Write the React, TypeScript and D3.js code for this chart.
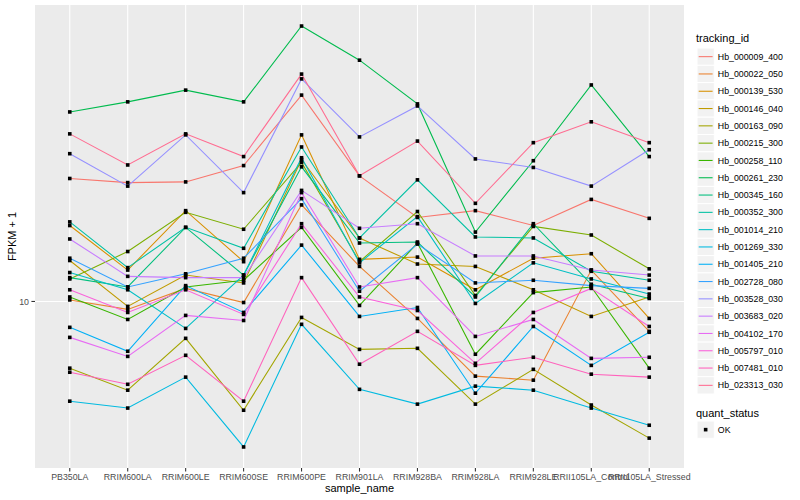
import { useEffect, useRef } from "react";
import * as d3 from "d3";

const samples = [
  "PB350LA", "RRIM600LA", "RRIM600LE", "RRIM600SE", "RRIM600PE", "RRIM901LA",
  "RRIM928BA", "RRIM928LA", "RRIM928LE", "RRII105LA_Control", "RRII105LA_Stressed",
];

// FPKM + 1 per sample, one array per gene
const hb000009_400 = [22.5, 21.9, 22.0, 24.5, 39.0, 22.9, 17.4, 18.2, 16.5, 19.6, 17.3];
const hb000022_050 = [10.1, 9.49, 10.9, 9.93, 18.9, 12.6, 8.94, 6.11, 5.95, 12.3, 8.21];
const hb000139_530 = [16.5, 12.3, 18.2, 13.0, 30.0, 13.2, 13.4, 10.8, 13.3, 13.7, 8.94];
const hb000146_040 = [13.1, 9.68, 11.9, 11.3, 25.5, 15.2, 12.8, 12.6, 10.8, 9.06, 10.3];
const hb000163_090 = [6.44, 5.57, 7.84, 4.88, 9.0, 7.29, 7.34, 5.08, 6.39, 5.05, 4.06];
const hb000215_300 = [11.6, 13.9, 18.0, 16.1, 25.0, 13.0, 18.1, 10.4, 16.4, 15.5, 12.4];
const hb000258_110 = [10.3, 8.88, 11.0, 11.5, 16.3, 9.74, 14.7, 7.06, 10.6, 11.0, 6.44];
const hb000261_230 = [34.9, 37.3, 40.3, 37.3, 61.5, 49.1, 36.8, 15.8, 25.3, 41.7, 26.0];
const hb000345_160 = [11.7, 11.0, 16.3, 11.9, 24.3, 14.7, 14.8, 10.3, 16.7, 11.2, 10.2];
const hb000352_300 = [16.9, 12.5, 16.3, 14.2, 27.7, 15.2, 22.3, 15.3, 15.2, 12.2, 11.5];
const hb001014_210 = [12.1, 10.8, 8.37, 11.9, 25.8, 12.9, 17.5, 9.87, 12.9, 11.6, 10.5];
const hb001269_330 = [5.18, 4.95, 6.07, 3.83, 8.6, 5.6, 5.08, 5.72, 5.57, 4.95, 4.42];
const hb001405_210 = [8.43, 7.2, 11.1, 9.3, 14.5, 9.06, 9.61, 5.46, 8.48, 6.56, 8.16];
const hb002728_080 = [13.3, 11.0, 12.0, 13.3, 19.7, 10.7, 14.6, 11.3, 11.5, 11.1, 10.9];
const hb003528_030 = [26.5, 21.4, 30.0, 20.5, 43.4, 29.6, 36.3, 25.6, 24.2, 21.4, 27.2];
const hb003683_020 = [15.1, 11.8, 11.7, 11.7, 20.8, 16.2, 16.7, 13.5, 13.5, 12.3, 11.9];
const hb004102_170 = [7.89, 6.96, 9.12, 8.82, 20.5, 11.0, 11.7, 7.94, 8.88, 6.87, 6.92];
const hb005797_010 = [10.8, 9.3, 10.8, 9.18, 16.7, 10.3, 9.42, 6.65, 9.3, 10.9, 8.48];
const hb007481_010 = [6.27, 5.79, 7.01, 5.18, 11.7, 6.61, 8.21, 6.56, 6.92, 6.19, 6.07];
const hb023313_030 = [30.2, 24.6, 30.2, 26.0, 44.8, 22.9, 28.8, 19.1, 28.5, 32.7, 28.5];

const trackingIds = [
  "Hb_000009_400", "Hb_000022_050", "Hb_000139_530", "Hb_000146_040", "Hb_000163_090",
  "Hb_000215_300", "Hb_000258_110", "Hb_000261_230", "Hb_000345_160", "Hb_000352_300",
  "Hb_001014_210", "Hb_001269_330", "Hb_001405_210", "Hb_002728_080", "Hb_003528_030",
  "Hb_003683_020", "Hb_004102_170", "Hb_005797_010", "Hb_007481_010", "Hb_023313_030",
];

const seriesValues = [
  hb000009_400, hb000022_050, hb000139_530, hb000146_040, hb000163_090,
  hb000215_300, hb000258_110, hb000261_230, hb000345_160, hb000352_300,
  hb001014_210, hb001269_330, hb001405_210, hb002728_080, hb003528_030,
  hb003683_020, hb004102_170, hb005797_010, hb007481_010, hb023313_030,
];

// ggplot2 default hue palette for 20 levels
const palette = [
  "#F8766D", "#EA8331", "#D89000", "#C09B00", "#A3A500",
  "#7CAE00", "#39B600", "#00BB4E", "#00BF7D", "#00C1A3",
  "#00BFC4", "#00BAE0", "#00B0F6", "#35A2FF", "#9590FF",
  "#C77CFF", "#E76BF3", "#FA62DB", "#FF62BC", "#FF6C91",
];

const yTicks = [10];
const statusLevels = ["OK"];

export default function App() {
  const svgRef = useRef<SVGSVGElement>(null);

  useEffect(() => {
    if (!svgRef.current) return;
    const svg = d3.select(svgRef.current);
    svg.selectAll("*").remove();

    const font = "'Liberation Sans', Arial, Helvetica, sans-serif";
    const left = 35, right = 684, top = 5, bottom = 468;

    const x = d3.scalePoint<string>().domain(samples).range([left, right]).padding(0.6);

    const all = seriesValues.flat();
    const lo = Math.log10(d3.min(all)!), hi = Math.log10(d3.max(all)!);
    const pad = (hi - lo) * 0.05;
    const y = d3.scaleLog().domain([10 ** (lo - pad), 10 ** (hi + pad)]).range([bottom, top]);

    // panel
    svg.append("rect")
      .attr("x", left).attr("y", top)
      .attr("width", right - left).attr("height", bottom - top)
      .attr("fill", "#EBEBEB");

    const grid = svg.append("g").attr("stroke", "#FFFFFF").attr("stroke-width", 1.07);
    samples.forEach((s) => {
      grid.append("line")
        .attr("x1", x(s)!).attr("x2", x(s)!)
        .attr("y1", top).attr("y2", bottom);
    });
    yTicks.forEach((t) => {
      grid.append("line")
        .attr("x1", left).attr("x2", right)
        .attr("y1", y(t)).attr("y2", y(t));
    });

    // lines
    const line = d3.line<number>()
      .x((_, i) => x(samples[i])!)
      .y((d) => y(d));

    seriesValues.forEach((vals, i) => {
      svg.append("path")
        .datum(vals)
        .attr("fill", "none")
        .attr("stroke", palette[i])
        .attr("stroke-width", 1.07)
        .attr("d", line);
    });

    // points
    const pts = svg.append("g").attr("fill", "#000");
    seriesValues.forEach((vals) => {
      vals.forEach((v, j) => {
        pts.append("rect")
          .attr("x", x(samples[j])! - 1.8)
          .attr("y", y(v) - 1.8)
          .attr("width", 3.6).attr("height", 3.6);
      });
    });

    // axes
    const axisColor = "#4D4D4D";
    yTicks.forEach((t) => {
      svg.append("line")
        .attr("x1", left - 3.6).attr("x2", left)
        .attr("y1", y(t)).attr("y2", y(t))
        .attr("stroke", "#333333").attr("stroke-width", 1.07);
      svg.append("text")
        .attr("x", left - 6).attr("y", y(t))
        .attr("dy", "0.35em")
        .attr("text-anchor", "end")
        .attr("font-family", font).attr("font-size", 8.8)
        .attr("fill", axisColor)
        .text(String(t));
    });
    samples.forEach((s) => {
      svg.append("line")
        .attr("x1", x(s)!).attr("x2", x(s)!)
        .attr("y1", bottom).attr("y2", bottom + 3.6)
        .attr("stroke", "#333333").attr("stroke-width", 1.07);
      svg.append("text")
        .attr("x", x(s)!).attr("y", bottom + 12)
        .attr("text-anchor", "middle")
        .attr("font-family", font).attr("font-size", 8.8)
        .attr("fill", axisColor)
        .text(s);
    });

    svg.append("text")
      .attr("x", (left + right) / 2).attr("y", 492)
      .attr("text-anchor", "middle")
      .attr("font-family", font).attr("font-size", 11)
      .text("sample_name");

    svg.append("text")
      .attr("transform", `translate(16,${(top + bottom) / 2}) rotate(-90)`)
      .attr("text-anchor", "middle")
      .attr("font-family", font).attr("font-size", 11)
      .text("FPKM + 1");

    // legend: tracking_id
    const lx = 697, keyW = 17.3, keyH = 17.3;
    const leg = svg.append("g");
    leg.append("text")
      .attr("x", 696).attr("y", 42)
      .attr("font-family", font).attr("font-size", 11)
      .text("tracking_id");
    trackingIds.forEach((id, i) => {
      const ky = 48 + i * keyH;
      leg.append("rect")
        .attr("x", lx).attr("y", ky)
        .attr("width", keyW).attr("height", keyH)
        .attr("fill", "#F2F2F2").attr("stroke", "#FFFFFF");
      leg.append("line")
        .attr("x1", lx + 1.7).attr("x2", lx + keyW - 1.7)
        .attr("y1", ky + keyH / 2).attr("y2", ky + keyH / 2)
        .attr("stroke", palette[i]).attr("stroke-width", 1.07);
      leg.append("text")
        .attr("x", lx + keyW + 3.5).attr("y", ky + keyH / 2)
        .attr("dy", "0.35em")
        .attr("font-family", font).attr("font-size", 8.8)
        .text(id);
    });

    // legend: quant_status
    leg.append("text")
      .attr("x", 696).attr("y", 417)
      .attr("font-family", font).attr("font-size", 11)
      .text("quant_status");
    statusLevels.forEach((s, i) => {
      const ky = 421 + i * keyH;
      leg.append("rect")
        .attr("x", lx).attr("y", ky)
        .attr("width", keyW).attr("height", keyH)
        .attr("fill", "#F2F2F2").attr("stroke", "#FFFFFF");
      leg.append("rect")
        .attr("x", lx + keyW / 2 - 1.8).attr("y", ky + keyH / 2 - 1.8)
        .attr("width", 3.6).attr("height", 3.6)
        .attr("fill", "#000");
      leg.append("text")
        .attr("x", lx + keyW + 3.5).attr("y", ky + keyH / 2)
        .attr("dy", "0.35em")
        .attr("font-family", font).attr("font-size", 8.8)
        .text(s);
    });
  }, []);

  return (
    <svg
      ref={svgRef}
      width={800}
      height={500}
      viewBox="0 0 800 500"
      style={{ position: "absolute", left: 0, top: 0, background: "#FFFFFF" }}
    />
  );
}
